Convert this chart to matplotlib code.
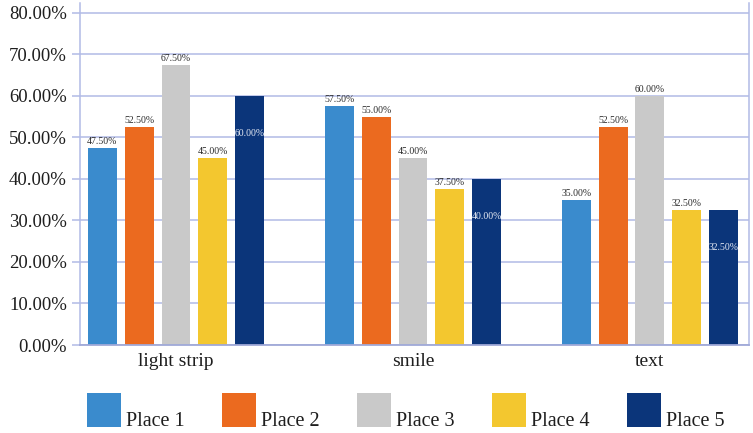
import matplotlib
matplotlib.use("Agg")
import matplotlib.pyplot as plt
from matplotlib.patches import Rectangle
from matplotlib.ticker import FuncFormatter, MultipleLocator

# Share of responses per category and place
categories = ["light strip", "smile", "text"]
series_names = ["Place 1", "Place 2", "Place 3", "Place 4", "Place 5"]
place1 = [47.5, 57.5, 35.0]
place2 = [52.5, 55.0, 52.5]
place3 = [67.5, 45.0, 60.0]
place4 = [45.0, 37.5, 32.5]
place5 = [60.0, 40.0, 32.5]
series_values = [place1, place2, place3, place4, place5]

colors = ["#3a8bcd", "#eb6a1f", "#c9c9c9", "#f3c72f", "#0b357a"]
grid_color = "#b2bbe6"
base_color = "#a0a9d8"
font = "Liberation Serif"

W, H = 753, 433
fig = plt.figure(figsize=(W / 100, H / 100), dpi=100)
ax = fig.add_axes([80 / W, (H - 345) / H, (749 - 80) / W, 342 / H])

bar_w = 0.122
step = 0.1553
n = len(series_values)
for i, (vals, col) in enumerate(zip(series_values, colors)):
    xs = [g + (i - (n - 1) / 2) * step for g in range(len(categories))]
    ax.bar(xs, vals, width=bar_w, color=col, zorder=3)
    for x, v in zip(xs, vals):
        label = f"{v:.2f}%"
        if i == n - 1:
            ax.annotate(label, (x, v), xytext=(0, -27), textcoords="offset points",
                        ha="center", va="center", fontsize=7, family=font,
                        color="#e8ecf5", zorder=4)
        else:
            ax.annotate(label, (x, v), xytext=(0, 1.5), textcoords="offset points",
                        ha="center", va="bottom", fontsize=7, family=font,
                        color="#2a2a2a", zorder=4)

ax.set_xlim(-0.405, 2.418)
ax.set_ylim(0, 82.4)
ax.yaxis.set_major_locator(MultipleLocator(10))
ax.yaxis.set_major_formatter(FuncFormatter(lambda v, p: f"{v:.2f}%"))
ax.set_xticks(range(len(categories)))
ax.set_xticklabels(categories)

ax.grid(axis="y", color=grid_color, linewidth=1.1, zorder=0)
ax.tick_params(axis="y", direction="out", length=6, width=1.1, color=grid_color,
               pad=3.5, labelsize=13.5, labelcolor="#1e1e1e")
ax.tick_params(axis="x", length=0, pad=6, labelsize=14, labelcolor="#1e1e1e")
for lbl in ax.get_yticklabels() + ax.get_xticklabels():
    lbl.set_family(font)

ax.spines["top"].set_visible(False)
for side in ("left", "right"):
    ax.spines[side].set_color(grid_color)
    ax.spines[side].set_linewidth(1.1)
ax.spines["bottom"].set_color(base_color)
ax.spines["bottom"].set_linewidth(1.3)
ax.spines["bottom"].set_zorder(5)

# Legend row beneath the axes
for i, (name, col) in enumerate(zip(series_names, colors)):
    x0 = 87 + 135 * i
    fig.patches.append(Rectangle((x0 / W, (H - 427) / H), 34 / W, 34 / H,
                                 transform=fig.transFigure, facecolor=col,
                                 edgecolor="none"))
    fig.text((x0 + 39) / W, (H - 426) / H, name, ha="left", va="baseline",
             fontsize=14.5, family=font, color="#1e1e1e")

fig.savefig("out.png", dpi=100)
